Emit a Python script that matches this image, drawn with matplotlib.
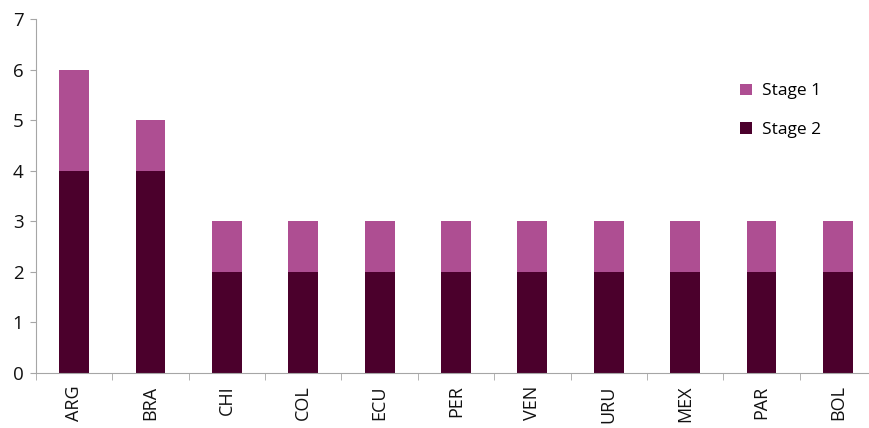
import numpy as np
import matplotlib.pyplot as plt

countries = ['ARG', 'BRA', 'CHI', 'COL', 'ECU', 'PER', 'VEN', 'URU', 'MEX', 'PAR', 'BOL']
stage2 = [4, 4, 2, 2, 2, 2, 2, 2, 2, 2, 2]
stage1 = [2, 1, 1, 1, 1, 1, 1, 1, 1, 1, 1]

c1 = '#AE4E92'
c2 = '#4B002C'
grey = '#A6A6A6'

plt.rcParams['font.family'] = ['Open Sans', 'DejaVu Sans']

fig = plt.figure(figsize=(8.69, 4.28), dpi=100)
ax = fig.add_axes([36 / 869, 55 / 428, 840 / 869, 354 / 428])

x = np.arange(len(countries))
ax.bar(x, stage2, width=0.39, color=c2, label='Stage 2')
ax.bar(x, stage1, width=0.39, bottom=stage2, color=c1, label='Stage 1')

ax.set_xlim(-0.5, len(countries) - 0.5)
ax.set_ylim(0, 7)
ax.set_yticks(range(8))
ax.tick_params(axis='y', length=4, color=grey, labelsize=13.5, pad=5, labelcolor='#111111')

ax.set_xticks(x)
ax.set_xticklabels(countries, rotation=90, fontsize=13, color='#111111')
ax.set_xticks(np.arange(-0.5, len(countries), 1), minor=True)
ax.tick_params(axis='x', which='major', length=0, pad=9)
ax.tick_params(axis='x', which='minor', length=5, color=grey)

for s in ['top', 'right']:
    ax.spines[s].set_visible(False)
for s in ['left', 'bottom']:
    ax.spines[s].set_color(grey)

h, l = ax.get_legend_handles_labels()
ax.legend(h[::-1], l[::-1], loc='upper left', bbox_to_anchor=(0.82, 0.862), frameon=False,
          fontsize=12.5, handlelength=0.65, handleheight=0.65, labelspacing=1.3, handletextpad=0.6)

fig.savefig('out.png', dpi=100)
